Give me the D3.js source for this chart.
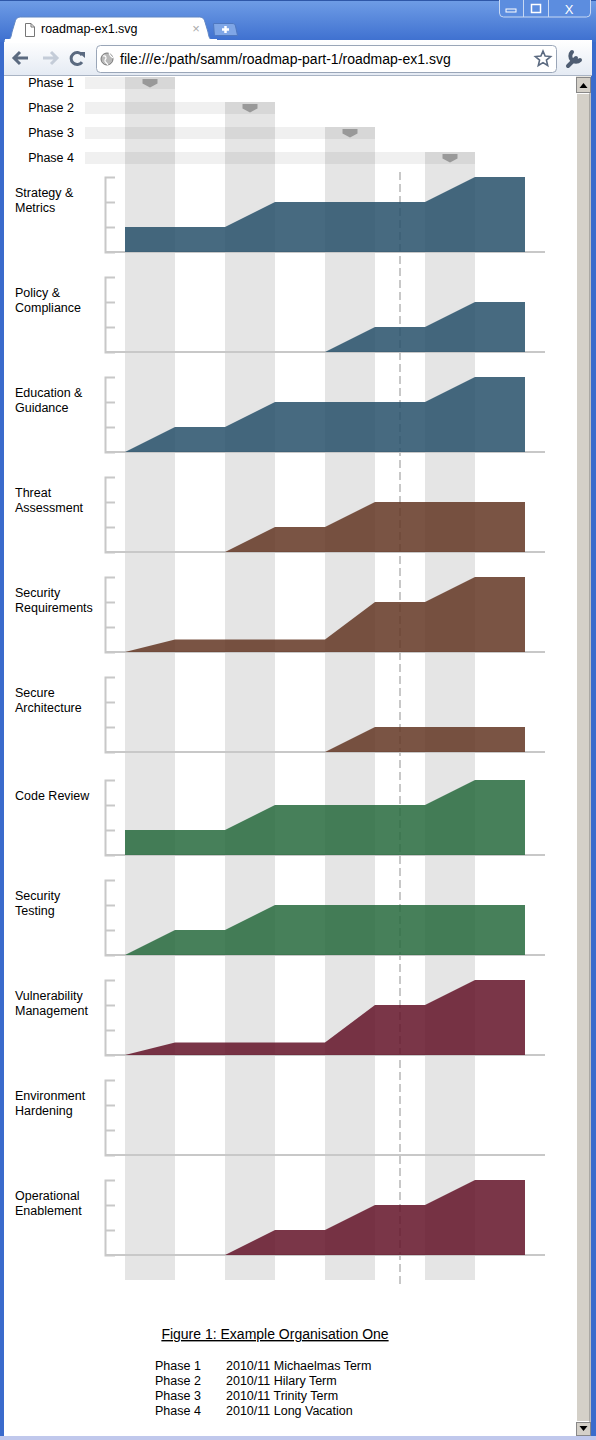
<!DOCTYPE html>
<html>
<head>
<meta charset="utf-8">
<title>roadmap-ex1.svg</title>
<script src="https://cdn.jsdelivr.net/npm/d3@7"></script>
<style>
  html, body { margin: 0; padding: 0; background: #fff; overflow: hidden; }
  svg { display: block; }
  text { font-family: "Liberation Sans", Arial, sans-serif; }
</style>
</head>
<body>
<div id="chart"></div>
<script>
// ---- data ----
const phases = ["Phase 1", "Phase 2", "Phase 3", "Phase 4"];
const phaseTerms = [
  "2010/11 Michaelmas Term",
  "2010/11 Hilary Term",
  "2010/11 Trinity Term",
  "2010/11 Long Vacation"
];
const practices = [
  "Strategy &\nMetrics",
  "Policy &\nCompliance",
  "Education &\nGuidance",
  "Threat\nAssessment",
  "Security\nRequirements",
  "Secure\nArchitecture",
  "Code Review",
  "Security\nTesting",
  "Vulnerability\nManagement",
  "Environment\nHardening",
  "Operational\nEnablement"
];
// business function of each practice (governance, construction, verification, deployment)
const practiceGroup = [0, 0, 0, 1, 1, 1, 2, 2, 3, 3, 3];
// maturity level at the start, then at the end of each phase
const levels = [
  [1, 1, 2, 2, 3],
  [0, 0, 0, 1, 2],
  [0, 1, 2, 2, 3],
  [0, 0, 1, 2, 2],
  [0, 0.5, 0.5, 2, 3],
  [0, 0, 0, 1, 1],
  [1, 1, 2, 2, 3],
  [0, 1, 2, 2, 2],
  [0, 0.5, 0.5, 2, 3],
  [0, 0, 0, 0, 0],
  [0, 0, 1, 2, 3]
];
const groupColors = ["#27506a", "#633623", "#276a3d", "#631328"];
const maxLevel = 3;
const levelTicks = [1, 2];
const nowPosition = 2.75; // where we are now, in phases
const figureTitle = "Figure 1: Example Organisation One";
const tabTitle = "roadmap-ex1.svg";
const fileUrl = "file:///e:/path/samm/roadmap-part-1/roadmap-ex1.svg";

const W = 596, H = 1440;
const labelSize = 12.5;

const svg = d3.select("#chart")
  .append("svg")
  .attr("width", W)
  .attr("height", H);

drawChrome();

// ---- chart ----
const plot = svg.append("g");

const x = d3.scaleLinear().domain([0, phases.length]).range([125, 525]);
const bandW = x(0.5) - x(0);
const phaseTop = 77, phaseStep = 25, phaseBarH = 12;
const bandBottom = 1280;
const axisLeft = 105, axisRight = x(4.2);
const rowHeight = 75;

function baseline(i) {
  // verification and deployment rows sit a few pixels lower
  return 252 + 100 * i + (practiceGroup[i] >= 2 ? 3 : 0);
}

// phase columns
plot.selectAll("rect.band")
  .data(phases)
  .join("rect")
  .attr("class", "band")
  .attr("x", (d, i) => x(i))
  .attr("y", (d, i) => phaseTop + i * phaseStep)
  .attr("width", bandW)
  .attr("height", (d, i) => bandBottom - (phaseTop + i * phaseStep))
  .attr("fill", "#000")
  .attr("fill-opacity", 0.1);

// phase header bars
plot.selectAll("rect.phasebar")
  .data(phases)
  .join("rect")
  .attr("class", "phasebar")
  .attr("x", 85)
  .attr("y", (d, i) => phaseTop + i * phaseStep)
  .attr("width", (d, i) => x(i + 0.5) - 85)
  .attr("height", phaseBarH)
  .attr("fill", "#000")
  .attr("fill-opacity", 0.06);

plot.selectAll("text.phaselabel")
  .data(phases)
  .join("text")
  .attr("class", "phaselabel")
  .attr("x", 74)
  .attr("y", (d, i) => phaseTop + i * phaseStep + 10)
  .attr("text-anchor", "end")
  .attr("font-size", labelSize)
  .text(d => d);

plot.selectAll("path.marker")
  .data(phases)
  .join("path")
  .attr("class", "marker")
  .attr("transform", (d, i) => `translate(${x(i + 0.25)},${phaseTop + i * phaseStep + 2})`)
  .attr("d", "M-7.5,0H7.5V4.5L0,8.5L-7.5,4.5Z")
  .attr("fill", "#999");

// "now" line
plot.append("line")
  .attr("x1", x(nowPosition)).attr("x2", x(nowPosition))
  .attr("y1", 172).attr("y2", 1284)
  .attr("stroke", "#c8c8c8")
  .attr("stroke-width", 2)
  .attr("stroke-dasharray", "8,4");

// practice rows
const area = d3.area()
  .x(d => x(d[0]))
  .y0(0)
  .y1(d => d[1]);

practices.forEach((name, i) => {
  const y = d3.scaleLinear().domain([0, maxLevel]).range([0, -rowHeight]);
  const row = plot.append("g").attr("transform", `translate(0,${baseline(i)})`);

  const axis = row.append("g")
    .attr("transform", `translate(${axisLeft},0)`)
    .call(d3.axisRight(y).tickValues(levelTicks).tickSize(10).tickSizeOuter(10).tickFormat(""));
  axis.selectAll("path, line").attr("stroke", "#c8c8c8").attr("stroke-width", 2);

  row.append("line")
    .attr("x1", axisLeft).attr("x2", axisRight)
    .attr("y1", 0).attr("y2", 0)
    .attr("stroke", "#c8c8c8")
    .attr("stroke-width", 2);

  const v = levels[i];
  const pts = [[0, v[0]]];
  for (let p = 1; p < v.length; p++) {
    pts.push([p - 1, v[p - 1]], [p - 0.5, v[p]]);
  }
  pts.push([phases.length, v[v.length - 1]]);

  row.append("path")
    .datum(pts.map(d => [d[0], y(d[1])]))
    .attr("d", area)
    .attr("fill", groupColors[practiceGroup[i]])
    .attr("fill-opacity", 0.85);

  const label = row.append("text")
    .attr("x", 15)
    .attr("y", -rowHeight + 20)
    .attr("font-size", labelSize);
  label.selectAll("tspan")
    .data(name.split("\n"))
    .join("tspan")
    .attr("x", 15)
    .attr("dy", (d, k) => k === 0 ? 0 : 15)
    .text(d => d);
});

// caption and phase key
plot.append("text")
  .attr("x", 275)
  .attr("y", 1339)
  .attr("text-anchor", "middle")
  .attr("font-size", 14)
  .attr("text-decoration", "underline")
  .text(figureTitle);

const key = plot.selectAll("g.key")
  .data(phases)
  .join("g")
  .attr("class", "key")
  .attr("transform", (d, i) => `translate(0,${1370 + i * 15})`);
key.append("text").attr("x", 155).attr("font-size", labelSize).text(d => d);
key.append("text").attr("x", 226).attr("font-size", labelSize).text((d, i) => phaseTerms[i]);

// ---- browser window around the svg ----
function drawChrome() {
  const defs = svg.append("defs");
  const tg = defs.append("linearGradient").attr("id", "titleGrad").attr("x1", 0).attr("x2", 0).attr("y1", 0).attr("y2", 1);
  tg.append("stop").attr("offset", 0).attr("stop-color", "#6f9de6");
  tg.append("stop").attr("offset", 1).attr("stop-color", "#3d6fcf");
  const bg = defs.append("linearGradient").attr("id", "barGrad").attr("x1", 0).attr("x2", 0).attr("y1", 0).attr("y2", 1);
  bg.append("stop").attr("offset", 0).attr("stop-color", "#ffffff");
  bg.append("stop").attr("offset", 1).attr("stop-color", "#e4eaf3");

  // frame
  svg.append("rect").attr("width", W).attr("height", H).attr("fill", "#3a6bcc");
  svg.append("rect").attr("width", W).attr("height", 42).attr("fill", "url(#titleGrad)");
  svg.append("rect").attr("width", W).attr("height", 1).attr("fill", "#2e57a8");

  // window buttons
  const wb = svg.append("g");
  wb.append("rect").attr("x", 499.5).attr("y", -4).attr("width", 91).attr("height", 21).attr("rx", 4)
    .attr("fill", "#5c8ddf").attr("stroke", "#c7d8f3").attr("stroke-width", 1);
  [523.5, 548.5].forEach(bx => wb.append("line").attr("x1", bx).attr("x2", bx).attr("y1", 0).attr("y2", 17).attr("stroke", "#c7d8f3"));
  wb.append("rect").attr("x", 506).attr("y", 9).attr("width", 10).attr("height", 3).attr("fill", "none").attr("stroke", "#fff").attr("stroke-width", 1);
  wb.append("rect").attr("x", 531.5).attr("y", 4.5).attr("width", 9).attr("height", 8).attr("fill", "none").attr("stroke", "#fff").attr("stroke-width", 1.5);
  wb.append("text").attr("x", 569).attr("y", 14).attr("text-anchor", "middle").attr("font-size", 13).attr("fill", "#fff").text("X");

  // toolbar
  svg.append("rect").attr("x", 4).attr("y", 40).attr("width", W - 8).attr("height", 36).attr("fill", "url(#barGrad)");
  svg.append("rect").attr("x", 4).attr("y", 75).attr("width", W - 8).attr("height", 1).attr("fill", "#a9b4c4");

  // tab
  svg.append("path")
    .attr("d", "M4,41 C10,41 11,38 12,32 L15,22 C16,18 18,17 22,17 L198,17 C202,17 204,18 205,22 L208,32 C209,38 210,41 216,41 Z")
    .attr("fill", "#fff").attr("stroke", "#5f86c4").attr("stroke-width", 1);
  svg.append("rect").attr("x", 5).attr("y", 39).attr("width", 212).attr("height", 4).attr("fill", "#fff");
  svg.append("path").attr("d", "M25.5,23.5H31L34.5,27V36.5H25.5Z M31,23.5V27H34.5")
    .attr("fill", "#fff").attr("stroke", "#777").attr("stroke-width", 1);
  svg.append("text").attr("x", 41).attr("y", 33).attr("font-size", 12.5).attr("fill", "#000").text(tabTitle);
  svg.append("text").attr("x", 196).attr("y", 33).attr("text-anchor", "middle").attr("font-size", 13).attr("fill", "#aaa").text("×");
  svg.append("path").attr("d", "M213.5,23.5H232C234,23.5 235,24 235.5,26L237.5,35.5H216C215,35.5 214.5,35 214.3,34Z")
    .attr("fill", "#7fa6e6").attr("stroke", "#4f78c0");
  svg.append("path").attr("d", "M222,29.5H229M225.5,26V33").attr("stroke", "#fff").attr("stroke-width", 2.5);

  // navigation buttons
  svg.append("path").attr("d", "M14,58H28M20,52L14,58L20,64").attr("fill", "none").attr("stroke", "#5b6a80").attr("stroke-width", 3);
  svg.append("path").attr("d", "M43,58H57M51,52L57,58L51,64").attr("fill", "none").attr("stroke", "#c4ccd8").attr("stroke-width", 3);
  svg.append("path").attr("d", "M82,55 A6,6 0 1 0 82,62").attr("fill", "none").attr("stroke", "#5b6a80").attr("stroke-width", 3);
  svg.append("path").attr("d", "M78,52L85,52L85,58Z").attr("fill", "#5b6a80");

  // address box
  svg.append("rect").attr("x", 96.5).attr("y", 45.5).attr("width", 460).attr("height", 27).attr("rx", 4)
    .attr("fill", "#fff").attr("stroke", "#9aa6b8");
  svg.append("circle").attr("cx", 107).attr("cy", 59).attr("r", 6).attr("fill", "#b9b9b9").attr("stroke", "#777");
  svg.append("path").attr("d", "M103,56C106,55 107,58 105,60C104,62 107,63 108,65M109,53C110,56 112,57 113,58")
    .attr("fill", "none").attr("stroke", "#fff").attr("stroke-width", 1.2);
  svg.append("text").attr("x", 120).attr("y", 64).attr("font-size", 14).attr("fill", "#000").text(fileUrl);
  const star = d3.range(10).map(k => {
    const a = -Math.PI / 2 + k * Math.PI / 5, r = k % 2 ? 3.6 : 8;
    return [543 + r * Math.cos(a), 59 + r * Math.sin(a)];
  });
  svg.append("path").attr("d", "M" + star.join("L") + "Z").attr("fill", "#fff").attr("stroke", "#5b6a80").attr("stroke-width", 1.6);
  svg.append("path").attr("d", "M568,66L576,58M572,52A5,5 0 1 0 580,60")
    .attr("fill", "none").attr("stroke", "#4f5d72").attr("stroke-width", 4).attr("stroke-linecap", "round");

  // viewport
  svg.append("rect").attr("x", 4).attr("y", 76).attr("width", 572).attr("height", 1360).attr("fill", "#fff");

  // scrollbar
  svg.append("rect").attr("x", 576).attr("y", 76).attr("width", 15).attr("height", 1360).attr("fill", "#e8e6e1");
  svg.append("rect").attr("x", 576.5).attr("y", 77.5).attr("width", 14).attr("height", 15).attr("fill", "#d4d0c8").attr("stroke", "#888");
  svg.append("path").attr("d", "M579.5,88L583.5,83L587.5,88Z").attr("fill", "#000");
  svg.append("rect").attr("x", 576.5).attr("y", 93.5).attr("width", 14).attr("height", 1328).attr("fill", "#d4d0c8")
    .attr("stroke", "#fff").attr("stroke-width", 1);
  svg.append("line").attr("x1", 590).attr("x2", 590).attr("y1", 93).attr("y2", 1422).attr("stroke", "#808080");
  svg.append("rect").attr("x", 576.5).attr("y", 1422.5).attr("width", 14).attr("height", 13).attr("fill", "#d4d0c8").attr("stroke", "#888");
  svg.append("path").attr("d", "M579.5,1426L583.5,1431L587.5,1426Z").attr("fill", "#000");

  // bottom edge
  svg.append("rect").attr("x", 0).attr("y", 1436).attr("width", W).attr("height", 4).attr("fill", "#c0c8ec");
}
</script>
</body>
</html>
